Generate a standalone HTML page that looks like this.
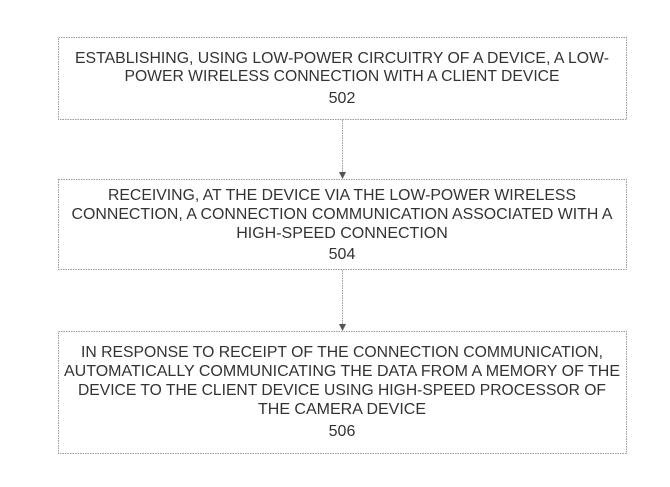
<!DOCTYPE html>
<html><head><meta charset="utf-8"><style>
html,body{margin:0;padding:0;background:#fff;}
svg{display:block;}
text{font-family:"Liberation Sans",sans-serif;font-size:16px;fill:#333;}
</style></head><body>
<svg width="670" height="487" viewBox="0 0 670 487">
<g fill="none" stroke="#999" stroke-width="1" stroke-dasharray="1.5,1">
<rect x="58.5" y="37.5" width="568" height="82"/>
<rect x="58.5" y="179.5" width="568" height="90"/>
<rect x="58.5" y="331.5" width="568" height="122"/>
<line x1="342.5" y1="120" x2="342.5" y2="176"/>
<line x1="342.5" y1="270" x2="342.5" y2="328"/>
</g>
<polygon points="339,172 346,172 342.5,179" fill="#555"/>
<polygon points="339,324 346,324 342.5,331" fill="#555"/>
<g text-anchor="middle">
<text x="342" y="63" textLength="534" lengthAdjust="spacingAndGlyphs">ESTABLISHING, USING LOW-POWER CIRCUITRY OF A DEVICE, A LOW-</text>
<text x="342" y="81" textLength="435" lengthAdjust="spacingAndGlyphs">POWER WIRELESS CONNECTION WITH A CLIENT DEVICE</text>
<text x="342" y="103">502</text>
<text x="342" y="200" textLength="468" lengthAdjust="spacingAndGlyphs">RECEIVING, AT THE DEVICE VIA THE LOW-POWER WIRELESS</text>
<text x="342" y="219" textLength="541" lengthAdjust="spacingAndGlyphs">CONNECTION, A CONNECTION COMMUNICATION ASSOCIATED WITH A</text>
<text x="342" y="238">HIGH-SPEED CONNECTION</text>
<text x="342" y="259">504</text>
<text x="342" y="357" textLength="522" lengthAdjust="spacingAndGlyphs">IN RESPONSE TO RECEIPT OF THE CONNECTION COMMUNICATION,</text>
<text x="342" y="376" textLength="556" lengthAdjust="spacingAndGlyphs">AUTOMATICALLY COMMUNICATING THE DATA FROM A MEMORY OF THE</text>
<text x="342" y="395" textLength="528" lengthAdjust="spacingAndGlyphs">DEVICE TO THE CLIENT DEVICE USING HIGH-SPEED PROCESSOR OF</text>
<text x="342" y="414">THE CAMERA DEVICE</text>
<text x="342" y="436">506</text>
</g>
</svg>
</body></html>
